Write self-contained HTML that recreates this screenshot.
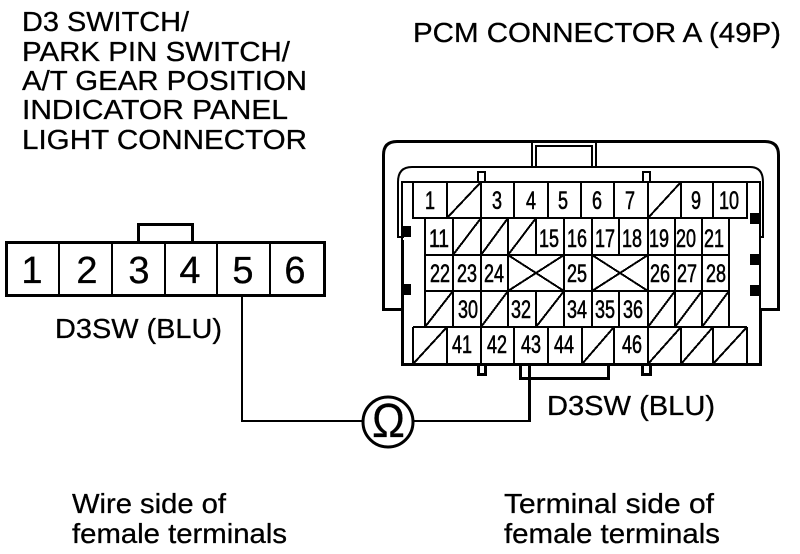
<!DOCTYPE html>
<html><head><meta charset="utf-8"><style>
html,body{margin:0;padding:0;background:#fff}
svg{display:block}
text{font-family:"Liberation Sans",sans-serif;fill:#000}
.h{font-size:28px;stroke:#000;stroke-width:.3}
.n{font-size:25px;text-anchor:middle;stroke:#000;stroke-width:.6}
.b{font-size:38px;text-anchor:middle;stroke:#000;stroke-width:.3}
.t{stroke:#000;stroke-width:3;fill:none;shape-rendering:crispEdges}
.m{stroke:#000;stroke-width:2;fill:none;shape-rendering:crispEdges}
</style></head><body>
<svg width="800" height="554" viewBox="0 0 800 554" xmlns="http://www.w3.org/2000/svg">
<rect width="800" height="554" fill="#fff"/>
<text class="h" x="22" y="31" textLength="167" lengthAdjust="spacingAndGlyphs">D3 SWITCH/</text>
<text class="h" x="22" y="61" textLength="268" lengthAdjust="spacingAndGlyphs">PARK PIN SWITCH/</text>
<text class="h" x="22" y="90" textLength="285" lengthAdjust="spacingAndGlyphs">A/T GEAR POSITION</text>
<text class="h" x="22" y="119" textLength="266" lengthAdjust="spacingAndGlyphs">INDICATOR PANEL</text>
<text class="h" x="22" y="149" textLength="285" lengthAdjust="spacingAndGlyphs">LIGHT CONNECTOR</text>
<text class="h" x="413" y="42" textLength="368" lengthAdjust="spacingAndGlyphs">PCM CONNECTOR A (49P)</text>
<text class="h" x="55" y="338" textLength="167" lengthAdjust="spacingAndGlyphs">D3SW (BLU)</text>
<text class="h" x="547" y="415" textLength="168" lengthAdjust="spacingAndGlyphs">D3SW (BLU)</text>
<text class="h" x="72" y="513" textLength="154" lengthAdjust="spacingAndGlyphs">Wire side of</text>
<text class="h" x="72" y="543" textLength="215" lengthAdjust="spacingAndGlyphs">female terminals</text>
<text class="h" x="504" y="513" textLength="210" lengthAdjust="spacingAndGlyphs">Terminal side of</text>
<text class="h" x="504" y="543" textLength="216" lengthAdjust="spacingAndGlyphs">female terminals</text>

<!-- left connector -->
<path class="t" d="M138.500 242V224.500H192.500V242"/>
<rect class="t" x="6.500" y="242.500" width="318" height="53"/>
<path class="m" d="M59 243V295M112 243V295M165 243V295M217 243V295M270 243V295"/>
<text class="b" x="32" y="283">1</text><text class="b" x="87" y="283">2</text><text class="b" x="139" y="283">3</text><text class="b" x="190" y="283">4</text><text class="b" x="243" y="283">5</text><text class="b" x="295" y="283">6</text>

<!-- wires -->
<path class="m" d="M242 297V421H363M413 421H529"/>
<path class="t" d="M529.500 364V422"/>
<circle cx="388" cy="422" r="25" fill="#fff" stroke="#000" stroke-width="3"/>
<text x="372" y="437" font-size="48" textLength="33" lengthAdjust="spacingAndGlyphs" stroke="#000" stroke-width=".2">Ω</text>

<!-- PCM shell -->
<path d="M402 309.500H383.500V155Q383.500 141.500 397 141.500H765Q778.500 141.500 778.500 155V309.500H760" fill="none" stroke="#000" stroke-width="3"/>
<path class="m" d="M532 141V167M596 141V167M536 167V146H592V167"/>
<path d="M404 237H398V182Q398 167 412 167H750Q763 167 763 182V237H760" fill="none" stroke="#000" stroke-width="2"/>
<path class="m" d="M402 182H760M402 181V240M760 181V309"/>
<path class="t" d="M402.500 240V365.500M760.500 309V365.500M401 364.500H762"/>
<path class="m" d="M478 182V172H485V182M643 182V172H650V182"/>
<path class="t" d="M478.500 365V374.500H485.500V365M642.500 365V374.500H650.500V365M520.500 365V378.500H608.500V365"/>
<g fill="#000">
<rect x="402" y="226" width="9" height="11"/><rect x="402" y="284" width="9" height="11"/>
<rect x="750" y="213" width="9" height="11"/><rect x="750" y="254" width="9" height="11"/><rect x="750" y="285" width="9" height="11"/>
</g>

<!-- grid -->
<path class="m" d="M413 182V218H747V182M447 182V218M481 182V218M514 182V218M548 182V218M581 182V218M614 182V218M648 182V218M681 182V218M713 182V218"/>
<path class="m" d="M425 218V327M729 218V327M425 255H729M425 291H729"/>
<path class="m" d="M453 218V327M481 218V327M508 218V327M536 218V255M536 291V327M564 218V327M592 218V327M619 218V255M619 291V327M648 218V327M675 218V327M702 218V327"/>
<path class="m" d="M413 327V364M413 327H747M747 327V364M447 327V364M481 327V364M514 327V364M548 327V364M582 327V364M614 327V364M648 327V364M681 327V364M713 327V364"/>
<!-- slashes -->
<path class="m" d="M447 218L481 182M648 218L681 182M453 255L481 218M481 255L508 218M508 255L536 218M425 327L453 291M481 327L508 291M536 327L564 291M648 327L675 291M675 327L702 291M702 327L729 291M413 364L447 327M582 364L614 327M648 364L681 327M681 364L713 327M713 364L747 327"/>
<path class="m" d="M508 255L564 291M564 255L508 291M592 255L648 291M648 255L592 291"/>

<g class="nums">
<text class="n" x="430" y="209" textLength="10" lengthAdjust="spacingAndGlyphs">1</text>
<text class="n" x="497" y="209" textLength="10" lengthAdjust="spacingAndGlyphs">3</text>
<text class="n" x="531" y="209" textLength="10" lengthAdjust="spacingAndGlyphs">4</text>
<text class="n" x="563" y="209" textLength="10" lengthAdjust="spacingAndGlyphs">5</text>
<text class="n" x="597" y="209" textLength="10" lengthAdjust="spacingAndGlyphs">6</text>
<text class="n" x="630" y="209" textLength="10" lengthAdjust="spacingAndGlyphs">7</text>
<text class="n" x="696" y="209" textLength="10" lengthAdjust="spacingAndGlyphs">9</text>
<text class="n" x="729" y="209" textLength="20" lengthAdjust="spacingAndGlyphs">10</text>
<text class="n" x="439" y="247" textLength="20" lengthAdjust="spacingAndGlyphs">11</text>
<text class="n" x="549" y="247" textLength="20" lengthAdjust="spacingAndGlyphs">15</text>
<text class="n" x="577" y="247" textLength="20" lengthAdjust="spacingAndGlyphs">16</text>
<text class="n" x="605" y="247" textLength="20" lengthAdjust="spacingAndGlyphs">17</text>
<text class="n" x="632" y="247" textLength="20" lengthAdjust="spacingAndGlyphs">18</text>
<text class="n" x="659" y="247" textLength="20" lengthAdjust="spacingAndGlyphs">19</text>
<text class="n" x="686" y="247" textLength="20" lengthAdjust="spacingAndGlyphs">20</text>
<text class="n" x="714" y="247" textLength="20" lengthAdjust="spacingAndGlyphs">21</text>
<text class="n" x="440" y="282" textLength="20" lengthAdjust="spacingAndGlyphs">22</text>
<text class="n" x="467" y="282" textLength="20" lengthAdjust="spacingAndGlyphs">23</text>
<text class="n" x="494" y="282" textLength="20" lengthAdjust="spacingAndGlyphs">24</text>
<text class="n" x="577" y="282" textLength="20" lengthAdjust="spacingAndGlyphs">25</text>
<text class="n" x="660" y="282" textLength="20" lengthAdjust="spacingAndGlyphs">26</text>
<text class="n" x="687" y="282" textLength="20" lengthAdjust="spacingAndGlyphs">27</text>
<text class="n" x="716" y="282" textLength="20" lengthAdjust="spacingAndGlyphs">28</text>
<text class="n" x="468" y="318" textLength="20" lengthAdjust="spacingAndGlyphs">30</text>
<text class="n" x="521" y="318" textLength="20" lengthAdjust="spacingAndGlyphs">32</text>
<text class="n" x="577" y="318" textLength="20" lengthAdjust="spacingAndGlyphs">34</text>
<text class="n" x="605" y="318" textLength="20" lengthAdjust="spacingAndGlyphs">35</text>
<text class="n" x="633" y="318" textLength="20" lengthAdjust="spacingAndGlyphs">36</text>
<text class="n" x="462" y="353" textLength="20" lengthAdjust="spacingAndGlyphs">41</text>
<text class="n" x="497" y="353" textLength="20" lengthAdjust="spacingAndGlyphs">42</text>
<text class="n" x="531" y="353" textLength="20" lengthAdjust="spacingAndGlyphs">43</text>
<text class="n" x="564" y="353" textLength="20" lengthAdjust="spacingAndGlyphs">44</text>
<text class="n" x="632" y="353" textLength="20" lengthAdjust="spacingAndGlyphs">46</text>
</g>
</svg>
</body></html>
